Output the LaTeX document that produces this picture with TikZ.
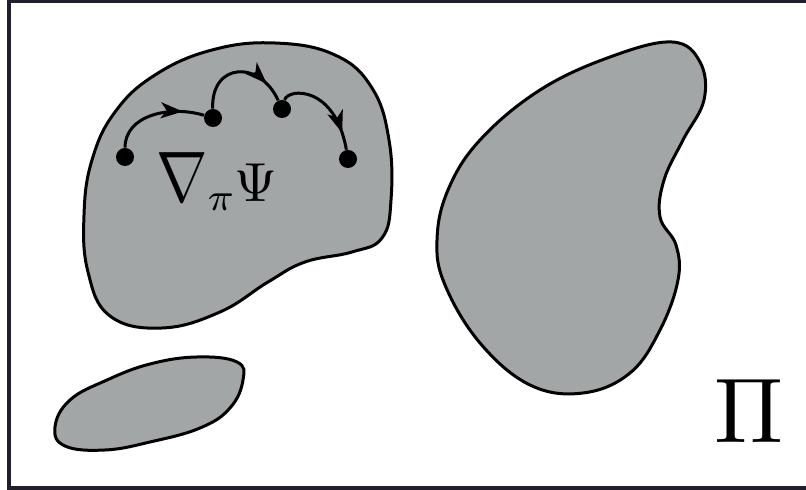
\documentclass[tikz,border=0pt]{standalone}
\usepackage{amssymb}
\usepackage{graphicx}
\usepackage{xcolor}
\usepackage{tikz}
\usetikzlibrary{arrows.meta, decorations.markings}
\definecolor{C0}{RGB}{162,166,166}
\definecolor{C1}{RGB}{ 35, 30, 45}

\tikzset{
    region/.style={fill=C0, draw=black, line width=1.5pt},
    state/.style={circle, fill=black, inner sep=0pt, minimum size=9pt},
    flow/.style={line width=1.5pt, postaction={decorate},
        decoration={markings, mark=at position #1 with
            {\arrow{Stealth[length=11pt, width=8pt, inset=3pt]}}}},
}

\begin{document}
\begin{tikzpicture}[x=0.5pt, y=-0.5pt]

    \useasboundingbox (0,0) rectangle (806,490);

    %% Frame
    \draw[C1, line width=2pt] (830,1) -- (9,1) -- (9,488) -- (830,488);

    %% --- Regions ---
    \draw[region] plot[smooth cycle, tension=0.7] coordinates {
        (84,215) (92,160) (115,112) (155,75) (212,50) (275,43) (335,55)
        (372,88) (389,140) (391,200) (382,238) (352,252) (305,262)
        (268,282) (220,312) (162,328) (110,316) (88,272)};

    \draw[region] plot[smooth cycle, tension=0.65] coordinates {
        (672,42) (700,62) (704,100) (683,140) (664,180) (660,217)
        (676,245) (678,280) (660,330) (630,373) (583,393) (530,385)
        (480,343) (445,285) (437,240) (448,190) (480,140) (540,90)
        (610,57)};

    \draw[region] plot[smooth cycle, tension=0.7] coordinates {
        (55,427) (70,400) (107,380) (150,364) (197,357) (237,362)
        (243,380) (230,408) (200,428) (150,442) (105,450) (65,446)};

    %% --- States ---
    \node[state] (s1) at (125,157) {};
    \node[state] (s2) at (213,118) {};
    \node[state] (s3) at (282,109) {};
    \node[state] (s4) at (348,159) {};

    \draw[flow=0.78] (s1) .. controls (125,115) and (170,105) .. (s2);
    \draw[flow=0.8] (s2) .. controls (211,62) and (260,60) .. (s3);
    \draw[flow=0.82] (s3) .. controls (288,88) and (335,85) .. (s4);

    %% Labels
    \node[anchor=base west, inner sep=0pt, scale=2.75] (grad) at (155,202)
        {$\scalebox{1.12}[1.3]{$\nabla$}_{\pi}\mkern-1mu\Psi$};
    \node[anchor=base west, inner sep=0pt, scale=4.6] (space) at (713,442)
        {$\Pi$};

\end{tikzpicture}
\end{document}
